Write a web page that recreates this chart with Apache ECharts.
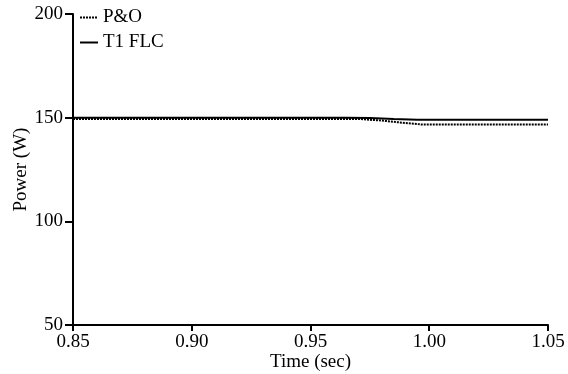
<!DOCTYPE html>
<html><head><meta charset="utf-8">
<script src="https://cdn.jsdelivr.net/npm/echarts@6/dist/echarts.min.js"></script>
<style>html,body{margin:0;padding:0;background:#fff}#c{width:568px;height:374px}</style>
</head><body><div id="c"></div>
<script>
const xTicks = [0.85, 0.90, 0.95, 1.00, 1.05];
const yTicks = [50, 100, 150, 200];
const poTime = [0.85, 0.97, 0.98, 0.99, 0.997, 1.05];
const poPower = [149.4, 149.4, 148.6, 147.4, 146.7, 146.7];
const flcTime = [0.85, 0.965, 0.975, 0.985, 0.995, 1.05];
const flcPower = [150.0, 150.0, 149.8, 149.3, 149.0, 149.0];

const font = 'Liberation Serif';
const chart = echarts.init(document.getElementById('c'), null, {renderer: 'canvas'});
chart.setOption({
  animation: false,
  grid: {left: 73, right: 20, top: 14, bottom: 49, containLabel: false, outerBoundsMode: 'none'},
  legend: {
    orient: 'vertical', left: 74, top: 3, itemWidth: 18, itemHeight: 12, itemGap: 6,
    itemStyle: {opacity: 0},
    textStyle: {fontFamily: font, fontSize: 19, color: '#000'},
    data: ['P&O', 'T1 FLC']
  },
  xAxis: {
    type: 'value', min: 0.85, max: 1.05, interval: 0.05,
    name: 'Time (sec)', nameLocation: 'middle', nameGap: 28, nameMoveOverlap: false,
    nameTextStyle: {fontFamily: font, fontSize: 19, color: '#000'},
    axisLine: {show: true, onZero: false, lineStyle: {color: '#000', width: 2}},
    axisTick: {show: true, length: 6, lineStyle: {color: '#000', width: 2}},
    axisLabel: {fontFamily: font, fontSize: 19, color: '#000', margin: 8,
      formatter: v => v.toFixed(2)},
    splitLine: {show: false}
  },
  yAxis: {
    type: 'value', min: 50, max: 200, interval: 50,
    name: 'Power (W)', nameLocation: 'middle', nameGap: 42, nameMoveOverlap: false,
    nameTextStyle: {fontFamily: font, fontSize: 19, color: '#000'},
    axisLine: {show: true, lineStyle: {color: '#000', width: 2}},
    axisTick: {show: true, length: 8, lineStyle: {color: '#000', width: 2}},
    axisLabel: {fontFamily: font, fontSize: 19, color: '#000', margin: 10},
    splitLine: {show: false}
  },
  series: [
    {name: 'P&O', type: 'line', symbol: 'none',
     data: poTime.map((t, i) => [t, poPower[i]]),
     lineStyle: {color: '#000', width: 2, type: [2, 1]}, itemStyle: {color: '#000'}},
    {name: 'T1 FLC', type: 'line', symbol: 'none',
     data: flcTime.map((t, i) => [t, flcPower[i]]),
     lineStyle: {color: '#000', width: 2}, itemStyle: {color: '#000'}}
  ]
});
</script></body></html>
